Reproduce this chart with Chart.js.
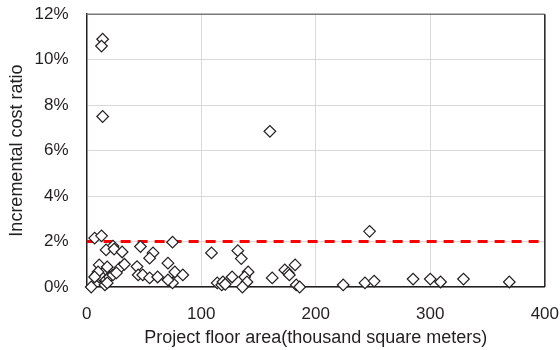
<!DOCTYPE html>
<html>
<head>
<meta charset="utf-8">
<script src="https://cdn.jsdelivr.net/npm/chart.js@4/dist/chart.umd.min.js"></script>
<style>
  html, body { margin: 0; padding: 0; background: #fff; }
  #wrap { width: 560px; height: 350px; }
</style>
</head>
<body>
<div id="wrap"><canvas id="chart" width="560" height="350"></canvas></div>
<script>
// project floor area (thousand m2) and incremental cost ratio (%)
const floorArea = [
  14, 13, 14, 160, 247,
  7, 13, 23, 47, 75,
  17, 24, 31, 58, 55, 109, 132, 135,
  11, 18, 29, 44, 71, 33,
  9, 11, 14, 17, 20, 23, 26, 16, 18, 4, 10, 7, 45, 49, 55, 62, 77, 84, 75, 71,
  114, 118, 119, 127, 141, 138, 140, 136, 121,
  162, 173, 182, 176, 177, 183, 186,
  224, 243, 251, 285, 300, 309, 329, 369
];
const costRatio = [
  10.9, 10.6, 7.5, 6.85, 2.45,
  2.15, 2.25, 1.8, 1.78, 1.97,
  1.63, 1.67, 1.54, 1.5, 1.27, 1.5, 1.6, 1.25,
  0.97, 0.88, 0.84, 0.9, 1.05, 1.0,
  0.55, 0.44, 0.4, 0.31, 0.44, 0.53, 0.62, 0.09, 0.18, 0.0, 0.66, 0.44, 0.53, 0.53, 0.4, 0.44, 0.66, 0.53, 0.18, 0.31,
  0.18, 0.09, 0.22, 0.44, 0.66, 0.44, 0.22, 0.0, 0.12,
  0.4, 0.75, 0.97, 0.62, 0.53, 0.09, 0.0,
  0.09, 0.18, 0.26, 0.35, 0.35, 0.22, 0.35, 0.22
];
const thresholdX = [0, 400];
const thresholdY = [2, 2];
const xTicks = [0, 100, 200, 300, 400];
const yTicks = [0, 2, 4, 6, 8, 10, 12];

const textColor = '#231f20';
const fontFamily = '"Liberation Sans", Arial, sans-serif';

// draws the top and right frame of the plot area
const frame = {
  id: 'frame',
  beforeDatasetsDraw(chart) {
    const { ctx, chartArea: a } = chart;
    ctx.save();
    ctx.lineWidth = 1.5;
    ctx.strokeStyle = '#7a7a7a';
    ctx.beginPath();
    ctx.moveTo(a.left, a.top);
    ctx.lineTo(a.right, a.top);
    ctx.stroke();
    ctx.strokeStyle = textColor;
    ctx.beginPath();
    ctx.moveTo(a.right, a.top);
    ctx.lineTo(a.right, a.bottom);
    ctx.stroke();
    ctx.restore();
  }
};

const ctx = document.getElementById('chart').getContext('2d');
new Chart(ctx, {
  type: 'scatter',
  data: {
    datasets: [
      {
        label: 'Projects',
        data: floorArea.map((x, i) => ({ x: x, y: costRatio[i] })),
        pointStyle: 'rectRot',
        pointRadius: 5.8,
        pointBackgroundColor: '#ffffff',
        pointBorderColor: '#231f20',
        pointBorderWidth: 1.2,
        clip: false
      },
      {
        label: 'Threshold',
        type: 'line',
        data: thresholdX.map((x, i) => ({ x: x, y: thresholdY[i] })),
        borderColor: '#ff0000',
        borderWidth: 3,
        borderDash: [10, 7],
        pointRadius: 0,
        fill: false
      }
    ]
  },
  options: {
    responsive: false,
    animation: false,
    layout: { padding: { left: 5, right: 2, top: 4, bottom: 1 } },
    plugins: {
      legend: { display: false },
      tooltip: { enabled: false }
    },
    scales: {
      x: {
        type: 'linear',
        min: 0,
        max: 400,
        afterBuildTicks: axis => { axis.ticks = xTicks.map(v => ({ value: v })); },
        ticks: { color: textColor, font: { family: fontFamily, size: 17 }, padding: 1 },
        grid: { color: '#d9d9d9', lineWidth: 1, drawTicks: true, tickLength: 16, tickColor: 'rgba(0,0,0,0)' },
        border: { color: textColor, width: 1.5 },
        title: {
          display: true,
          text: 'Project floor area(thousand square meters)',
          color: textColor,
          font: { family: fontFamily, size: 18 },
          padding: { top: 2, bottom: 0 }
        }
      },
      y: {
        type: 'linear',
        min: 0,
        max: 12,
        afterBuildTicks: axis => { axis.ticks = yTicks.map(v => ({ value: v })); },
        ticks: {
          color: textColor,
          font: { family: fontFamily, size: 17 },
          padding: 4,
          callback: v => v + '%'
        },
        grid: { color: '#d9d9d9', lineWidth: 1, drawTicks: true, tickLength: 14, tickColor: 'rgba(0,0,0,0)' },
        border: { color: textColor, width: 1.5 },
        title: {
          display: true,
          text: 'Incremental cost ratio',
          color: textColor,
          font: { family: fontFamily, size: 18 },
          padding: { top: 1, bottom: 3 }
        }
      }
    }
  },
  plugins: [frame]
});
</script>
</body>
</html>
